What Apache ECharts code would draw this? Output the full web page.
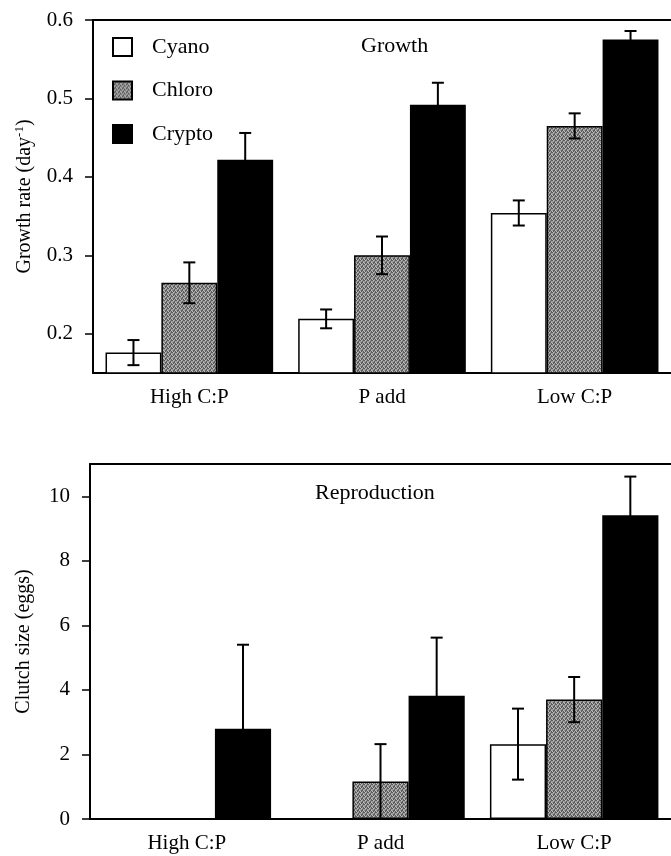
<!DOCTYPE html>
<html>
<head>
<meta charset="utf-8">
<script src="https://cdn.jsdelivr.net/npm/echarts@6/dist/echarts.min.js"></script>
<style>
  html, body { margin: 0; padding: 0; background: #fff; }
  #main { width: 671px; height: 856px; }
</style>
</head>
<body>
<div id="main"></div>
<script>
var categories = ['High C:P', 'P add', 'Low C:P'];
var groups = ['Cyano', 'Chloro', 'Crypto'];

// growth rate (day-1), mean and error
var growthCyano = [0.176, 0.219, 0.354];
var growthChloro = [0.265, 0.300, 0.465];
var growthCrypto = [0.422, 0.492, 0.575];
var growthCyanoErr = [0.016, 0.012, 0.016];
var growthChloroErr = [0.026, 0.024, 0.016];
var growthCryptoErr = [0.034, 0.028, 0.011];

// clutch size (eggs), mean and error
var clutchCyano = [0, 0, 2.32];
var clutchChloro = [0, 1.16, 3.70];
var clutchCrypto = [2.80, 3.82, 9.41];
var clutchCyanoErr = [0, 0, 1.10];
var clutchChloroErr = [0, 1.16, 0.70];
var clutchCryptoErr = [2.60, 1.80, 1.20];

var growthTicks = [0.2, 0.3, 0.4, 0.5, 0.6];
var clutchTicks = [0, 2, 4, 6, 8, 10];

var font = 'Liberation Serif, Times New Roman, serif';
var catGap = 0.13;

// stippled grey for Chloro
var pat = document.createElement('canvas');
pat.width = 4; pat.height = 4;
var pctx = pat.getContext('2d');
pctx.fillStyle = '#9c9c9c';
pctx.fillRect(0, 0, 4, 4);
pctx.fillStyle = '#5c5c5c';
[[0,0],[2,1],[1,2],[3,3],[3,0],[1,3],[2,2]].forEach(function (p) { pctx.fillRect(p[0], p[1], 1, 1); });
pctx.fillStyle = '#bdbdbd';
[[1,0],[3,2],[0,3]].forEach(function (p) { pctx.fillRect(p[0], p[1], 1, 1); });
var grey = { image: pat, repeat: 'repeat' };

var fills = ['#ffffff', grey, '#000000'];

function errData(means, errs, g) {
  return means.map(function (m, i) { return [i, m, errs[i], g]; });
}

function errRender(axisMin) {
  return function (params, api) {
    var cat = api.value(0), v = api.value(1), e = api.value(2), g = api.value(3);
    if (!e) return;
    var band = api.size([1, 0])[0];
    var bw = band * (1 - catGap) / 3;
    var c = api.coord([cat, v]);
    var x = c[0] + (g - 1) * bw;
    var hi = api.coord([cat, v + e])[1];
    var lo = api.coord([cat, Math.max(v - e, axisMin)])[1];
    var cw = 6;
    var st = { stroke: '#000', lineWidth: 2 };
    var kids = [
      { type: 'line', shape: { x1: x, y1: hi, x2: x, y2: lo }, style: st },
      { type: 'line', shape: { x1: x - cw, y1: hi, x2: x + cw, y2: hi }, style: st }
    ];
    if (v - e > axisMin) kids.push({ type: 'line', shape: { x1: x - cw, y1: lo, x2: x + cw, y2: lo }, style: st });
    return { type: 'group', children: kids };
  };
}

function barSeries(name, data, g, idx) {
  return {
    name: name, type: 'bar', data: data,
    xAxisIndex: idx, yAxisIndex: idx,
    barGap: 0, barCategoryGap: (catGap * 100) + '%',
    itemStyle: { color: fills[g], borderColor: '#000', borderWidth: 1.5 },
    emphasis: { disabled: true },
    animation: false
  };
}

function errSeries(means, errs, g, idx, axisMin) {
  return {
    type: 'custom', data: errData(means, errs, g),
    xAxisIndex: idx, yAxisIndex: idx,
    renderItem: errRender(axisMin), z: 5, silent: true, animation: false
  };
}

var axisLine = { lineStyle: { color: '#000', width: 2 } };
var label = { color: '#000', fontSize: 21, fontFamily: font };

var myChart = echarts.init(document.getElementById('main'));
var option = {
  backgroundColor: '#fff',
  animation: false,
  title: [
    { text: 'Growth', left: 356, top: 30, textStyle: { fontSize: 22, fontWeight: 'normal', fontFamily: font, color: '#000' } },
    { text: 'Reproduction', left: 310, top: 477, textStyle: { fontSize: 22, fontWeight: 'normal', fontFamily: font, color: '#000' } }
  ],
  legend: {
    data: groups, orient: 'vertical', left: 112, top: 36, padding: 0,
    itemWidth: 19, itemHeight: 18, itemGap: 21.5, icon: 'rect',
    textStyle: { fontSize: 22, fontFamily: font, color: '#000', lineHeight: 22, padding: [0, 0, 0, 15] },
    selectedMode: false
  },
  grid: [
    { left: 93, top: 20, right: -5, height: 353 },
    { left: 90, top: 464, right: -3, height: 355 }
  ],
  xAxis: [0, 1].map(function (i) {
    return {
      type: 'category', data: categories, gridIndex: i,
      axisLine: axisLine,
      axisTick: { alignWithLabel: true, length: 8, lineStyle: { color: '#000', width: 2 } },
      axisLabel: Object.assign({ margin: 14 }, label)
    };
  }).concat([0, 1].map(function (i) {
    // top frame line
    return {
      type: 'category', data: categories, gridIndex: i, position: 'top',
      axisLine: axisLine, axisTick: { show: false }, axisLabel: { show: false }
    };
  })),
  yAxis: [
    {
      type: 'value', gridIndex: 0, min: 0.15, max: 0.6,
      name: '{n|Growth rate (day}{s|-1}{n|)}', nameLocation: 'middle', nameGap: 56,
      nameTextStyle: { rich: {
        n: { fontSize: 20, fontFamily: font, color: '#000', lineHeight: 24 },
        s: { fontSize: 13, fontFamily: font, color: '#000', verticalAlign: 'top', lineHeight: 14 }
      } },
      axisLine: { show: true, lineStyle: { color: '#000', width: 2 } },
      axisTick: { show: true, length: 8, customValues: growthTicks, lineStyle: { color: '#000', width: 1.5 } },
      axisLabel: Object.assign({ margin: 20, customValues: growthTicks, formatter: function (v) { return v.toFixed(1); } }, label),
      splitLine: { show: false }
    },
    {
      type: 'value', gridIndex: 1, min: 0, max: 11,
      name: 'Clutch size (eggs)', nameLocation: 'middle', nameGap: 56,
      nameTextStyle: { fontSize: 20, fontFamily: font, color: '#000' },
      axisLine: { show: true, lineStyle: { color: '#000', width: 2 } },
      axisTick: { show: true, length: 8, customValues: clutchTicks, lineStyle: { color: '#000', width: 1.5 } },
      axisLabel: Object.assign({ margin: 20, customValues: clutchTicks }, label),
      splitLine: { show: false }
    }
  ],
  series: [
    barSeries('Cyano', growthCyano, 0, 0),
    barSeries('Chloro', growthChloro, 1, 0),
    barSeries('Crypto', growthCrypto, 2, 0),
    barSeries('Cyano', clutchCyano, 0, 1),
    barSeries('Chloro', clutchChloro, 1, 1),
    barSeries('Crypto', clutchCrypto, 2, 1),
    errSeries(growthCyano, growthCyanoErr, 0, 0, 0.15),
    errSeries(growthChloro, growthChloroErr, 1, 0, 0.15),
    errSeries(growthCrypto, growthCryptoErr, 2, 0, 0.15),
    errSeries(clutchCyano, clutchCyanoErr, 0, 1, 0),
    errSeries(clutchChloro, clutchChloroErr, 1, 1, 0),
    errSeries(clutchCrypto, clutchCryptoErr, 2, 1, 0)
  ]
};
myChart.setOption(option);
</script>
</body>
</html>
